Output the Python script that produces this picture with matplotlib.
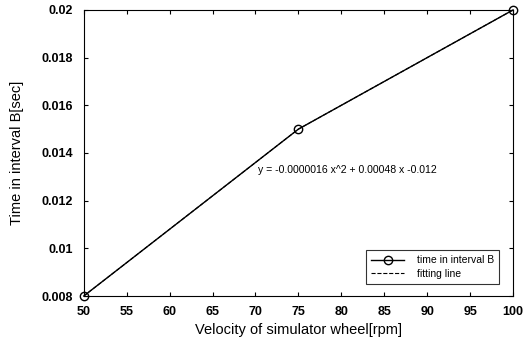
import matplotlib
matplotlib.use('Agg')
import matplotlib.pyplot as plt

plt.rcParams['font.family'] = ['Liberation Sans', 'DejaVu Sans']

# data
rpm = [50, 75, 100]
t_interval = [0.008, 0.015, 0.020]
fit_rpm = [50, 75, 100]
fit_t = [0.008, 0.015, 0.020]

xticks = [50, 55, 60, 65, 70, 75, 80, 85, 90, 95, 100]
yticks = [0.008, 0.01, 0.012, 0.014, 0.016, 0.018, 0.02]
ytick_labels = ['0.008', '0.01', '0.012', '0.014', '0.016', '0.018', '0.02']

fig = plt.figure(figsize=(5.3, 3.43), dpi=100)
ax = fig.add_axes([0.158, 0.137, 0.81, 0.834])

ax.plot(rpm, t_interval, '-o', color='black', lw=1.0, mfc='none', mec='black',
        ms=6, mew=1.0, label='time in interval B', clip_on=False, zorder=3)
ax.plot(fit_rpm, fit_t, '--', color='black', lw=0.8, label='fitting line')

ax.text(70.3, 0.0133, 'y = -0.0000016 x^2 + 0.00048 x -0.012', fontsize=7.6,
        va='center', ha='left')

ax.set_xlim(50, 100)
ax.set_ylim(0.008, 0.02)
ax.set_xticks(xticks)
ax.set_yticks(yticks)
ax.set_yticklabels(ytick_labels)
ax.tick_params(direction='in', top=True, right=True, length=3, width=0.8,
               labelsize=9)
ax.tick_params(axis='x', pad=7)
ax.tick_params(axis='y', pad=8)
for lab in ax.get_xticklabels() + ax.get_yticklabels():
    lab.set_fontweight('bold')
for s in ax.spines.values():
    s.set_linewidth(0.8)

ax.set_xlabel('Velocity of simulator wheel[rpm]', fontsize=10.5, labelpad=4)
ax.set_ylabel('Time in interval B[sec]', fontsize=10.5, labelpad=12)

leg = ax.legend(loc='lower right', bbox_to_anchor=(0.975, 0.03), fontsize=7.5,
                frameon=True, fancybox=False, edgecolor='black',
                handlelength=3.2, borderpad=0.5, labelspacing=0.35,
                handletextpad=1.2, borderaxespad=0.3)
leg.get_frame().set_linewidth(0.8)

fig.savefig('out.png', dpi=100)
